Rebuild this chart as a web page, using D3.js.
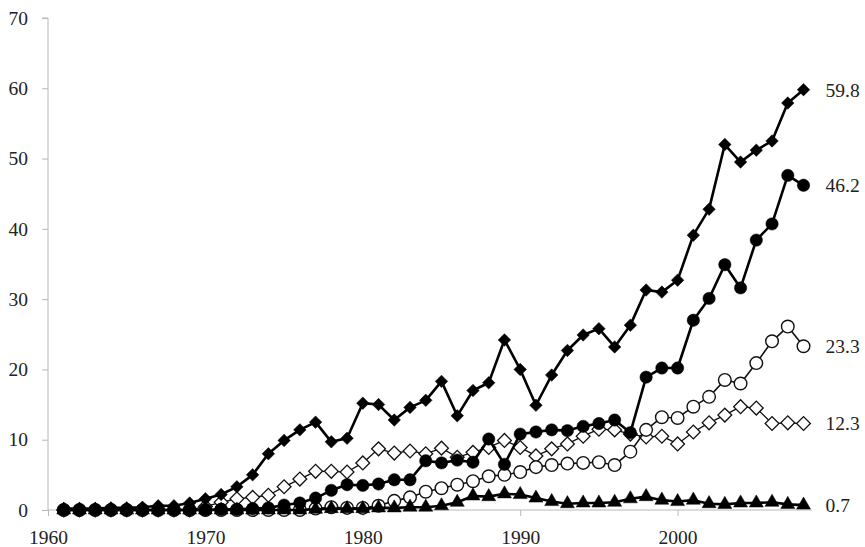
<!DOCTYPE html>
<html>
<head>
<meta charset="utf-8">
<script src="https://cdn.jsdelivr.net/npm/d3@7"></script>
<style>
  html, body { margin: 0; padding: 0; background: #fff; }
  svg { display: block; }
  text { font-family: "Liberation Serif", "Times New Roman", serif; fill: #222; }
</style>
</head>
<body>
<svg id="chart" width="865" height="547"></svg>
<script>
// Years covered by every series
const years = d3.range(1961, 2009);

// Series values, one per year (1961–2008)
const seriesDiamondFilled = [
  0.2, 0.2, 0.2, 0.3, 0.3, 0.4, 0.6, 0.6,
  1.0, 1.6, 2.2, 3.3, 5.0, 8.0, 9.9, 11.4, 12.5, 9.7,
  10.2, 15.2, 15.0, 12.8, 14.6, 15.6, 18.3, 13.4, 17.0, 18.1,
  24.2, 20.0, 14.9, 19.2, 22.7, 24.9, 25.8, 23.2, 26.3, 31.3,
  31.0, 32.7, 39.1, 42.8, 52.0, 49.5, 51.2, 52.5, 57.9, 59.8
];
const seriesCircleFilled = [
  0, 0, 0, 0, 0, 0, 0, 0, 0, 0,
  0.1, 0.1, 0.2, 0.3, 0.7, 1.0, 1.7, 2.8, 3.6, 3.5,
  3.7, 4.3, 4.3, 7.0, 6.7, 7.1, 6.8, 10.1, 6.5, 10.8,
  11.1, 11.4, 11.3, 11.9, 12.3, 12.8, 11.0, 18.9, 20.2, 20.2,
  27.0, 30.1, 34.9, 31.6, 38.4, 40.7, 47.6, 46.2
];
const seriesCircleOpen = [
  0, 0, 0, 0, 0, 0, 0, 0, 0, 0, 0, 0, 0, 0, 0, 0,
  0.2, 0.4, 0.3, 0.3, 0.6, 1.3, 1.8, 2.6, 3.1, 3.6,
  4.1, 4.8, 5.0, 5.4, 6.1, 6.4, 6.6, 6.7, 6.8, 6.4,
  8.3, 11.4, 13.2, 13.1, 14.7, 16.1, 18.5, 18.0, 20.9, 24.0,
  26.1, 23.3
];
const seriesDiamondOpen = [
  0, 0, 0, 0, 0, 0, 0, 0, 0,
  0.5, 1.1, 1.6, 1.8, 2.1, 3.3, 4.4, 5.5, 5.5, 5.4,
  6.7, 8.7, 8.1, 8.4, 8.0, 8.8, 7.5, 8.2, 8.9, 9.9,
  8.9, 7.7, 8.7, 9.4, 10.5, 11.5, 11.4, 10.8, 10.4, 10.5,
  9.4, 11.1, 12.4, 13.5, 14.7, 14.5, 12.3, 12.4, 12.3
];
const seriesTriangle = [
  0, 0, 0, 0, 0, 0, 0, 0, 0, 0, 0, 0, 0, 0, 0, 0,
  0.1, 0.2, 0.2, 0.2, 0.3, 0.3, 0.4, 0.4, 0.6, 1.1,
  2.0, 1.9, 2.3, 2.2, 1.7, 1.2, 0.9, 1.0, 1.0, 1.1,
  1.6, 1.9, 1.4, 1.2, 1.4, 0.9, 0.8, 1.0, 1.0, 1.1,
  0.8, 0.7
];

// Axis ticks
const xTicks = [1960, 1970, 1980, 1990, 2000];
const yTicks = [0, 10, 20, 30, 40, 50, 60, 70];

const svg = d3.select("#chart");
const plotLeft = 48, plotTop = 18, plotBottom = 510, plotRight = 835;

const x = d3.scaleLinear().domain([1960, 2010]).range([plotLeft, plotRight]);
const y = d3.scaleLinear().domain([0, 70]).range([plotBottom, plotTop]);

// Y axis
const yAxis = svg.append("g")
  .attr("transform", `translate(${plotLeft},0)`)
  .call(d3.axisLeft(y).tickValues(yTicks).tickSize(6).tickPadding(14).tickFormat(d3.format("d")));
yAxis.select(".domain").attr("stroke", "#b8b8b8").attr("d", `M-6,${y(70)}H0V${y(0)}`);
yAxis.selectAll(".tick line").attr("stroke", "#b8b8b8");
yAxis.selectAll(".tick text").style("font-size", "19.5px").attr("fill", "#222");

// X axis
const xAxis = svg.append("g")
  .attr("transform", `translate(0,${plotBottom})`)
  .call(d3.axisBottom(x).tickValues(xTicks).tickSize(6).tickPadding(14).tickFormat(d3.format("d")));
xAxis.select(".domain").attr("stroke", "#b8b8b8").attr("d", `M${plotLeft},0H${x(2008.5)}`);
xAxis.selectAll(".tick line").attr("stroke", "#b8b8b8");
xAxis.selectAll(".tick text").style("font-size", "19.5px").attr("fill", "#222");

// Diamonds are squares turned 45 degrees
const series = [
  { values: seriesDiamondOpen,   symbol: d3.symbolSquare,   rot: 45, size: 95,  fill: "#fff", stroke: "#111", lw: 1.3, mw: 1.3, label: "12.3" },
  { values: seriesCircleOpen,    symbol: d3.symbolCircle,   rot: 0,  size: 125, fill: "#fff", stroke: "#111", lw: 1.6, mw: 1.4, label: "23.3" },
  { values: seriesDiamondFilled, symbol: d3.symbolSquare,   rot: 45, size: 78,  fill: "#000", stroke: "#000", lw: 2.6, mw: 0.5, label: "59.8" },
  { values: seriesCircleFilled,  symbol: d3.symbolCircle,   rot: 0,  size: 120, fill: "#000", stroke: "#000", lw: 2.6, mw: 0.5, label: "46.2" },
  { values: seriesTriangle,      symbol: d3.symbolTriangle, rot: 0,  size: 85,  fill: "#000", stroke: "#000", lw: 2.6, mw: 0.5, label: "0.7" }
];

const line = d3.line()
  .x((d, i) => x(years[i]))
  .y(d => y(d));

series.forEach(s => {
  const g = svg.append("g");
  g.append("path")
    .datum(s.values)
    .attr("fill", "none")
    .attr("stroke", s.stroke)
    .attr("stroke-width", s.lw)
    .attr("stroke-linejoin", "round")
    .attr("d", line);

  const sym = d3.symbol().type(s.symbol).size(s.size);
  g.selectAll("path.mark")
    .data(s.values)
    .join("path")
    .attr("class", "mark")
    .attr("transform", (d, i) => `translate(${x(years[i])},${y(d)}) rotate(${s.rot})`)
    .attr("d", sym)
    .attr("fill", s.fill)
    .attr("stroke", s.stroke)
    .attr("stroke-width", s.mw);

  // End value label
  const last = s.values[s.values.length - 1];
  svg.append("text")
    .attr("x", x(2008) + 22)
    .attr("y", y(last))
    .attr("dy", "0.35em")
    .style("font-size", "19.5px")
    .text(s.label);
});
</script>
</body>
</html>
